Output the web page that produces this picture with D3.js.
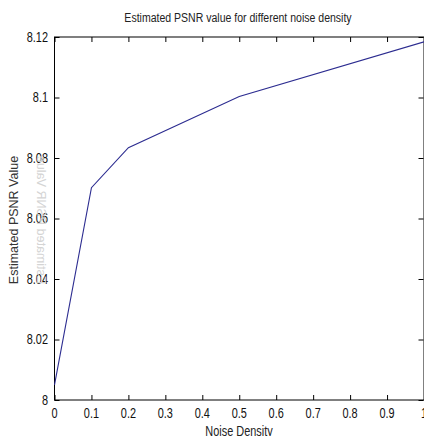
<!DOCTYPE html>
<html lang="en">
<head>
<meta charset="utf-8">
<script src="https://d3js.org/d3.v7.min.js"></script>
<style type="text/css">
    body { margin: 0; background: #fff; }
    svg { display: block; }
    text { font-family: "Liberation Sans", Arial, sans-serif; }
</style>
</head>
<body>
<div id="chart"></div>
<script type="text/javascript">
    // data
    var density = [0, 0.1, 0.2, 0.5, 1.0];
    var psnr = [8.005, 8.0702, 8.0834, 8.1003, 8.1184];
    var xTicks = [0, 0.1, 0.2, 0.3, 0.4, 0.5, 0.6, 0.7, 0.8, 0.9, 1];
    var yTicks = [8, 8.02, 8.04, 8.06, 8.08, 8.1, 8.12];

    var w = 424, h = 436;
    var squeeze = 0.78; // the reference lettering is condensed

    var svg = d3.select("#chart").append("svg")
        .attr("width", w)
        .attr("height", h);

    var x = d3.scaleLinear().domain([0, 1]).range([54.5, 424]);
    var y = d3.scaleLinear().domain([8, 8.12]).range([400, 37]);

    // frame
    svg.append("rect")
        .attr("x", x(0)).attr("y", y(8.12))
        .attr("width", x(1) - x(0)).attr("height", y(8) - y(8.12))
        .attr("fill", "none").attr("stroke", "#000").attr("stroke-width", 1);

    // inward ticks, on all four sides
    var tick = 5;
    svg.append("g").call(d3.axisBottom(x).tickValues(xTicks).tickSize(-tick).tickFormat(""))
        .attr("transform", "translate(0," + y(8) + ")");
    svg.append("g").call(d3.axisTop(x).tickValues(xTicks).tickSize(-tick).tickFormat(""))
        .attr("transform", "translate(0," + y(8.12) + ")");
    svg.append("g").call(d3.axisLeft(y).tickValues(yTicks).tickSize(-tick).tickFormat(""))
        .attr("transform", "translate(" + x(0) + ",0)");
    svg.append("g").call(d3.axisRight(y).tickValues(yTicks).tickSize(-tick).tickFormat(""))
        .attr("transform", "translate(" + (x(1) - 0.5) + ",0)");
    svg.selectAll(".domain").remove();
    svg.selectAll(".tick line").attr("stroke", "#000");

    // tick labels
    svg.append("g").selectAll("text")
        .data(xTicks).enter().append("text")
        .attr("transform", function(d) { return "translate(" + x(d) + ",418) scale(" + squeeze + ",1)"; })
        .attr("text-anchor", "middle")
        .attr("font-size", 14)
        .attr("fill", "#111")
        .text(function(d) { return d3.format("")(d); });

    svg.append("g").selectAll("text")
        .data(yTicks).enter().append("text")
        .attr("transform", function(d) { return "translate(48," + (y(d) + 4.5) + ") scale(" + squeeze + ",1)"; })
        .attr("text-anchor", "end")
        .attr("font-size", 14)
        .attr("fill", "#111")
        .text(function(d) { return d3.format("")(d); });

    // title and axis labels
    svg.append("text")
        .attr("transform", "translate(238,22) scale(" + squeeze + ",1)")
        .attr("text-anchor", "middle")
        .attr("font-size", 13.5)
        .attr("fill", "#222")
        .text("Estimated PSNR value for different noise density");

    svg.append("text")
        .attr("transform", "translate(239,436) scale(" + squeeze + ",1)")
        .attr("text-anchor", "middle")
        .attr("font-size", 14)
        .attr("fill", "#222")
        .text("Noise Density");

    svg.append("text")
        .attr("transform", "translate(18,220) rotate(-90)")
        .attr("text-anchor", "middle")
        .attr("font-size", 12.5)
        .attr("fill", "#333")
        .text("Estimated PSNR Value");

    // faint mirrored ghost of the y label
    svg.append("text")
        .attr("transform", "translate(37,220) scale(-1,1) rotate(-90)")
        .attr("text-anchor", "middle")
        .attr("font-size", 12.5)
        .attr("fill", "#d4d4d4")
        .text("Estimated PSNR Value");

    // line
    var line = d3.line()
        .x(function(d, i) { return x(density[i]); })
        .y(function(d) { return y(d); });
    svg.append("path")
        .datum(psnr)
        .attr("d", line)
        .attr("fill", "none")
        .attr("stroke", "#2c2c90")
        .attr("stroke-width", 1.1);
</script>
</body>
</html>
